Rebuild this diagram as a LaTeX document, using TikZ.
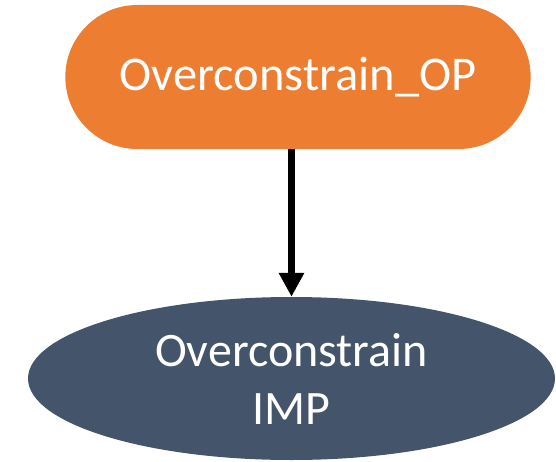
\documentclass[tikz,border=0pt]{standalone}
\usepackage{fontspec}
\setmainfont{Carlito}
\usetikzlibrary{shapes.geometric,shapes.misc,arrows.meta}
\definecolor{opOrange}{HTML}{ED7D31}
\definecolor{impSlate}{HTML}{44546A}
\tikzset{
  opbox/.style={rounded rectangle, fill=opOrange, draw=none, text=white,
    minimum width=472pt, minimum height=144pt, font=\fontsize{48.5}{58}\selectfont},
  impbox/.style={ellipse, fill=impSlate, draw=none, text=white, align=center,
    minimum width=527pt, minimum height=163pt, inner sep=0pt,
    font=\fontsize{48}{58}\selectfont},
  flow/.style={line width=7pt, -{Triangle[length=24pt,width=24pt]}}
}
\begin{document}
\begin{tikzpicture}[x=1pt,y=-1pt]
  \useasboundingbox (0,0) rectangle (556,462);
  \node[opbox] (op) at (298,77) {Overconstrain\_OP};
  \node[impbox] (imp) at (291.5,378.5) {Overconstrain\\IMP};
  \draw[flow] (op.south -| imp.north) -- (imp.north);
\end{tikzpicture}
\end{document}
